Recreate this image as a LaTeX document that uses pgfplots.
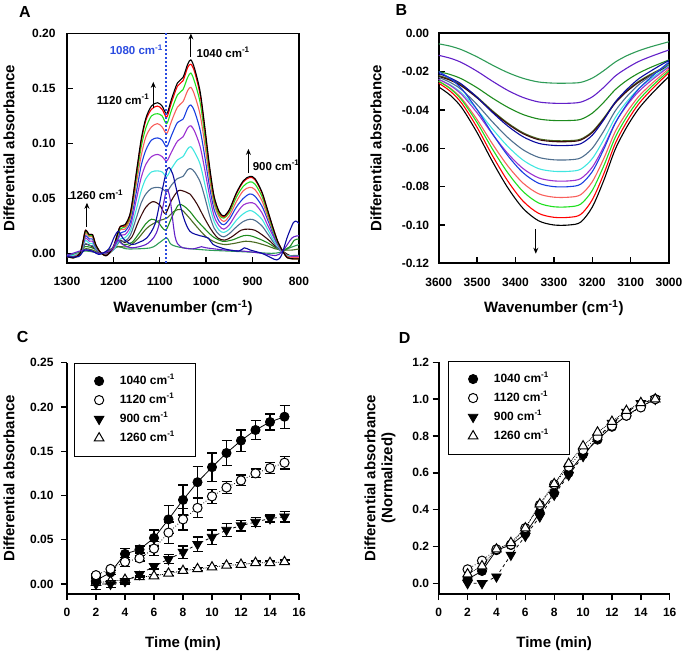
\documentclass[border=0pt]{standalone}
\usepackage{fontspec}
\setmainfont{Liberation Sans}
\usepackage{pgfplots}
\usepackage{pgfplotstable}
\pgfplotsset{compat=1.18}
\usetikzlibrary{arrows.meta}

\definecolor{cK}{HTML}{000000}
\definecolor{cR}{HTML}{FF0000}
\definecolor{cL}{HTML}{1EE01E}
\definecolor{cT}{HTML}{F8605C}
\definecolor{cB}{HTML}{1A3FE0}
\definecolor{cP}{HTML}{9B30D0}
\definecolor{cC}{HTML}{40E6E0}
\definecolor{cS}{HTML}{4F6F8F}
\definecolor{cM}{HTML}{3A0A0A}
\definecolor{cF}{HTML}{1E8B1E}
\definecolor{cO}{HTML}{4B6B23}
\definecolor{cN}{HTML}{0A0AA0}
\definecolor{cV}{HTML}{6220C8}
\definecolor{cG}{HTML}{2E9B57}
\definecolor{dotblue}{HTML}{2A4BE0}

\pgfplotstableread{
w k r l t b p c s
1300 -0.003 -0.003 -0.003 -0.003 -0.002 -0.002 -0.002 -0.001
1285 -0.004 -0.004 -0.004 -0.003 -0.003 -0.003 -0.002 -0.002
1272 0.000 0.000 0.000 0.000 0.000 0.000 0.000 0.000
1265 0.012 0.012 0.011 0.010 0.009 0.008 0.007 0.005
1260 0.021 0.021 0.020 0.018 0.016 0.014 0.012 0.009
1252 0.017 0.017 0.016 0.015 0.013 0.011 0.009 0.007
1245 0.017 0.017 0.016 0.015 0.013 0.011 0.009 0.007
1238 0.008 0.008 0.007 0.007 0.006 0.005 0.004 0.004
1228 0.001 0.001 0.001 0.001 0.001 0.001 0.001 0.000
1215 -0.002 -0.002 -0.002 -0.002 -0.002 -0.001 -0.001 -0.001
1200 0.006 0.006 0.006 0.005 0.005 0.004 0.003 0.003
1186 0.024 0.024 0.022 0.021 0.018 0.016 0.013 0.011
1175 0.026 0.025 0.024 0.022 0.020 0.017 0.014 0.011
1163 0.038 0.037 0.035 0.033 0.029 0.025 0.021 0.017
1150 0.075 0.074 0.070 0.065 0.057 0.050 0.041 0.033
1140 0.104 0.102 0.097 0.089 0.080 0.069 0.057 0.046
1130 0.123 0.121 0.114 0.106 0.094 0.081 0.068 0.054
1118 0.134 0.131 0.125 0.115 0.103 0.088 0.074 0.059
1105 0.137 0.134 0.127 0.118 0.105 0.090 0.075 0.060
1095 0.134 0.131 0.125 0.115 0.103 0.088 0.074 0.059
1085 0.127 0.124 0.118 0.109 0.097 0.084 0.070 0.056
1075 0.140 0.137 0.130 0.120 0.107 0.092 0.077 0.062
1062 0.155 0.152 0.144 0.133 0.119 0.102 0.085 0.068
1050 0.160 0.157 0.149 0.138 0.122 0.106 0.088 0.070
1040 0.172 0.169 0.160 0.148 0.132 0.114 0.095 0.076
1033 0.176 0.172 0.164 0.151 0.135 0.116 0.097 0.077
1025 0.168 0.165 0.156 0.144 0.129 0.111 0.092 0.074
1013 0.147 0.144 0.137 0.126 0.112 0.097 0.081 0.065
1003 0.115 0.113 0.107 0.099 0.088 0.076 0.063 0.051
993 0.080 0.078 0.074 0.069 0.061 0.053 0.044 0.035
983 0.052 0.051 0.048 0.045 0.040 0.034 0.029 0.023
972 0.038 0.037 0.035 0.033 0.029 0.025 0.021 0.017
962 0.034 0.033 0.032 0.029 0.026 0.022 0.019 0.015
950 0.040 0.039 0.037 0.034 0.031 0.026 0.022 0.018
935 0.055 0.054 0.051 0.047 0.042 0.036 0.030 0.024
920 0.066 0.065 0.061 0.057 0.050 0.044 0.036 0.029
906 0.070 0.069 0.065 0.060 0.054 0.046 0.039 0.031
895 0.068 0.067 0.063 0.058 0.052 0.045 0.037 0.030
880 0.056 0.055 0.052 0.048 0.043 0.037 0.031 0.025
868 0.040 0.039 0.037 0.034 0.031 0.026 0.022 0.018
855 0.022 0.022 0.020 0.019 0.017 0.015 0.012 0.010
845 0.010 0.010 0.009 0.009 0.008 0.007 0.006 0.004
835 0.002 0.002 0.002 0.002 0.002 0.001 0.001 0.001
825 -0.004 -0.004 -0.004 -0.003 -0.003 -0.003 -0.002 -0.002
812 -0.005 -0.005 -0.005 -0.004 -0.004 -0.003 -0.003 -0.002
800 -0.005 -0.005 -0.005 -0.004 -0.004 -0.003 -0.003 -0.002
}\specA

\pgfplotstableread{
w g1 g2 g3 g4 g5 g6 g7 g8 g9 g10 g11 g12 g13 g14
3600 -0.0055 -0.0115 -0.0200 -0.0220 -0.0225 -0.0210 -0.0230 -0.0240 -0.0240 -0.0200 -0.0250 -0.0250 -0.0260 -0.0280
3570 -0.0067 -0.0130 -0.0215 -0.0240 -0.0245 -0.0233 -0.0256 -0.0269 -0.0272 -0.0236 -0.0286 -0.0289 -0.0302 -0.0323
3540 -0.0086 -0.0153 -0.0238 -0.0271 -0.0276 -0.0266 -0.0295 -0.0312 -0.0320 -0.0290 -0.0341 -0.0348 -0.0365 -0.0388
3500 -0.0123 -0.0198 -0.0284 -0.0332 -0.0337 -0.0334 -0.0372 -0.0398 -0.0415 -0.0398 -0.0450 -0.0466 -0.0491 -0.0518
3460 -0.0166 -0.0250 -0.0338 -0.0404 -0.0409 -0.0413 -0.0462 -0.0499 -0.0526 -0.0524 -0.0577 -0.0604 -0.0638 -0.0669
3420 -0.0205 -0.0298 -0.0386 -0.0468 -0.0473 -0.0484 -0.0544 -0.0590 -0.0627 -0.0638 -0.0692 -0.0728 -0.0771 -0.0806
3380 -0.0235 -0.0335 -0.0424 -0.0519 -0.0524 -0.0540 -0.0608 -0.0662 -0.0706 -0.0728 -0.0782 -0.0826 -0.0876 -0.0914
3340 -0.0254 -0.0358 -0.0447 -0.0550 -0.0555 -0.0574 -0.0647 -0.0706 -0.0754 -0.0782 -0.0837 -0.0885 -0.0939 -0.0978
3300 -0.0260 -0.0365 -0.0455 -0.0560 -0.0565 -0.0585 -0.0660 -0.0720 -0.0770 -0.0800 -0.0855 -0.0905 -0.0960 -0.1000
3260 -0.0260 -0.0365 -0.0455 -0.0560 -0.0565 -0.0585 -0.0660 -0.0720 -0.0770 -0.0800 -0.0855 -0.0905 -0.0960 -0.1000
3230 -0.0256 -0.0359 -0.0449 -0.0552 -0.0557 -0.0576 -0.0650 -0.0709 -0.0758 -0.0787 -0.0842 -0.0891 -0.0945 -0.0985
3200 -0.0234 -0.0332 -0.0417 -0.0513 -0.0518 -0.0532 -0.0600 -0.0654 -0.0699 -0.0722 -0.0775 -0.0820 -0.0869 -0.0907
3170 -0.0195 -0.0282 -0.0360 -0.0442 -0.0447 -0.0452 -0.0510 -0.0555 -0.0592 -0.0605 -0.0654 -0.0692 -0.0734 -0.0768
3140 -0.0150 -0.0223 -0.0294 -0.0359 -0.0364 -0.0359 -0.0405 -0.0440 -0.0467 -0.0469 -0.0513 -0.0543 -0.0575 -0.0605
3110 -0.0117 -0.0182 -0.0246 -0.0299 -0.0304 -0.0293 -0.0330 -0.0357 -0.0377 -0.0371 -0.0413 -0.0436 -0.0462 -0.0489
3080 -0.0092 -0.0148 -0.0209 -0.0252 -0.0257 -0.0239 -0.0270 -0.0291 -0.0306 -0.0293 -0.0332 -0.0351 -0.0371 -0.0396
3050 -0.0072 -0.0123 -0.0180 -0.0216 -0.0221 -0.0200 -0.0225 -0.0242 -0.0252 -0.0235 -0.0272 -0.0287 -0.0303 -0.0326
3020 -0.0055 -0.0101 -0.0155 -0.0185 -0.0190 -0.0164 -0.0185 -0.0198 -0.0205 -0.0183 -0.0219 -0.0231 -0.0243 -0.0264
3000 -0.0044 -0.0087 -0.0139 -0.0165 -0.0170 -0.0142 -0.0160 -0.0170 -0.0175 -0.0150 -0.0185 -0.0195 -0.0205 -0.0225
}\specB

\tikzset{
  annot/.style={font=\bfseries\fontsize{11.5}{13}\selectfont, inner sep=0pt},
  arr/.style={line width=1pt, -{Stealth[length=6pt,width=5pt]}},
}

\pgfplotsset{
  panel/.style={
    scale only axis, anchor=south west,
    axis line style={line width=1.6pt},
    every tick/.style={black, line width=1.4pt},
    major tick length=6pt,
    tick label style={font=\bfseries\fontsize{12}{14}\selectfont},
    /pgf/number format/assume math mode=true,
    /pgf/number format/1000 sep={},
    label style={font=\bfseries\fontsize{15}{17}\selectfont},
    tick pos=left,
    clip mode=individual,
  },
  spec/.style={line width=1.1pt, smooth},
  kin/.style={
    axis x line*=bottom, axis y line*=left,
    x axis line style={-}, y axis line style={-},
    tick align=outside,
    xmin=0, xmax=16, xtick={0,2,...,16},
    xticklabel style={yshift=-5pt},
    legend cell align=left,
    legend image code/.code={\draw[##1, mark repeat=1] plot coordinates {(0pt,0pt)};},
    legend style={draw=black, line width=0.8pt, font=\bfseries\fontsize{12}{14}\selectfont,
      inner xsep=20pt, inner ysep=11pt, row sep=5pt,
      nodes={inner sep=1pt, text height=9pt, text depth=3pt},
      /tikz/every odd column/.append style={column sep=15pt}},
  },
  mF/.style={mark=*, mark size=4.6pt, mark options={solid, fill=black, draw=black, line width=0.8pt}},
  mO/.style={mark=*, mark size=4.6pt, mark options={solid, fill=white, draw=black, line width=1pt}},
  mD/.style={mark=triangle*, mark size=5.5pt, mark options={solid, rotate=180, fill=black, draw=black, line width=0.8pt}},
  mU/.style={mark=triangle*, mark size=5.5pt, mark options={solid, fill=white, draw=black, line width=1pt}},
  eb/.style={error bars/.cd, y dir=both, y explicit,
    error bar style={line width=1.3pt, solid, black},
    error mark options={rotate=90, mark size=5pt, line width=1.3pt, solid, black}},
}

\begin{document}
\begin{tikzpicture}
\useasboundingbox (0pt,0pt) rectangle (687pt,654pt);

% ---------------- Panel A ----------------
\begin{axis}[panel, at={(67pt,391pt)}, width=232pt, height=229.5pt,
  xmin=800, xmax=1300, x dir=reverse, ymin=-0.0088, ymax=0.2,
  xtick={800,900,1000,1100,1200,1300}, ytick={0,0.05,0.1,0.15,0.2},
  yticklabel style={xshift=-8pt, /pgf/number format/fixed, /pgf/number format/fixed zerofill, /pgf/number format/precision=2},
  xticklabel style={yshift=-11pt},
  tick align=inside,
  xlabel={Wavenumber (cm\textsuperscript{-1})}, ylabel={Differential absorbance},
  xlabel style={at={(axis description cs:0.5,-0.195)}, anchor=center},
  ylabel style={at={(axis description cs:-0.25,0.5)}, anchor=center},
]
\addplot[spec, cG] coordinates {(1300,-0.003) (1262,0.002) (1220,0.000) (1190,0.006) (1170,0.004) (1120,0.005) (1100,0.010) (1085,0.014) (1075,0.008) (1050,0.005) (1000,0.003) (950,0.002) (900,0.001) (860,0.000) (840,0.001) (820,0.005) (800,0.008)};
\addplot[spec, cO] coordinates {(1300,-0.002) (1275,-0.002) (1262,0.004) (1245,0.003) (1225,0.000) (1195,0.006) (1170,0.006) (1150,0.012) (1130,0.022) (1118,0.026) (1100,0.030) (1085,0.032) (1070,0.038) (1055,0.040) (1040,0.034) (1020,0.024) (1000,0.015) (980,0.010) (960,0.008) (940,0.009) (915,0.011) (895,0.010) (870,0.007) (850,0.004) (835,0.003) (815,0.003) (800,0.004)};
\addplot[spec, cF] coordinates {(1300,-0.002) (1275,-0.002) (1262,0.006) (1240,0.004) (1225,0.000) (1210,0.001) (1200,0.004) (1190,0.012) (1178,0.008) (1160,0.010) (1145,0.018) (1130,0.027) (1118,0.031) (1105,0.029) (1088,0.021) (1075,0.032) (1060,0.044) (1048,0.043) (1035,0.038) (1020,0.030) (1000,0.021) (985,0.015) (965,0.011) (945,0.012) (920,0.016) (905,0.016) (885,0.013) (865,0.009) (850,0.005) (835,0.003) (820,0.006) (810,0.012) (800,0.013)};
\addplot[spec, cM] coordinates {(1300,-0.002) (1275,-0.002) (1262,0.008) (1245,0.006) (1228,0.000) (1210,0.001) (1200,0.004) (1188,0.012) (1175,0.010) (1160,0.015) (1145,0.030) (1130,0.042) (1115,0.047) (1100,0.044) (1088,0.036) (1075,0.048) (1060,0.057) (1045,0.056) (1035,0.054) (1020,0.045) (1005,0.033) (990,0.022) (975,0.014) (960,0.012) (945,0.015) (925,0.021) (910,0.022) (895,0.021) (880,0.017) (865,0.012) (850,0.006) (835,0.002) (820,-0.002) (800,-0.003)};
\addplot[spec, cS] table[x=w, y=s] {\specA};
\addplot[spec, cC] table[x=w, y=c] {\specA};
\addplot[spec, cP] table[x=w, y=p] {\specA};
\addplot[spec, cB] table[x=w, y=b] {\specA};
\addplot[spec, cT] table[x=w, y=t] {\specA};
\addplot[spec, cL] table[x=w, y=l] {\specA};
\addplot[spec, cR] table[x=w, y=r] {\specA};
\addplot[spec, cK] table[x=w, y=k] {\specA};
\addplot[spec, cV] coordinates {(1300,-0.002) (1262,0.003) (1230,0.000) (1205,0.003) (1192,0.012) (1180,0.008) (1160,0.005) (1130,0.008) (1112,0.015) (1103,0.024) (1092,0.045) (1085,0.058) (1078,0.050) (1067,0.015) (1055,0.006) (1030,0.004) (1010,0.006) (1000,0.005) (960,0.003) (920,0.002) (880,0.000) (850,-0.002) (835,0.002) (815,0.014) (800,0.016)};
\addplot[spec, cN] coordinates {(1300,-0.003) (1275,-0.003) (1262,0.003) (1245,0.002) (1230,-0.001) (1210,0.004) (1198,0.015) (1189,0.020) (1178,0.013) (1160,0.008) (1145,0.010) (1128,0.014) (1110,0.027) (1096,0.055) (1086,0.074) (1080,0.078) (1072,0.072) (1064,0.058) (1049,0.033) (1035,0.020) (1013,0.016) (996,0.014) (985,0.008) (960,0.004) (930,0.002) (918,0.005) (905,0.003) (880,0.000) (860,-0.004) (848,-0.006) (838,-0.002) (825,0.015) (812,0.028) (805,0.029) (800,0.027)};
\draw[dotblue, line width=2pt, dash pattern=on 1.8pt off 2.2pt] (axis cs:1086,-0.0088) -- (axis cs:1086,0.2);
\node[annot, dotblue, anchor=east] at (axis cs:1093,0.185) {1080 cm\textsuperscript{-1}};
\node[annot, anchor=west] at (axis cs:1021,0.183) {1040 cm\textsuperscript{-1}};
\draw[arr] (axis cs:1033,0.179) -- (axis cs:1033,0.2);
\node[annot, anchor=east] at (axis cs:1122,0.140) {1120 cm\textsuperscript{-1}};
\draw[arr] (axis cs:1114,0.132) -- (axis cs:1114,0.156);
\node[annot, anchor=west] at (axis cs:900,0.080) {900 cm\textsuperscript{-1}};
\draw[arr] (axis cs:909,0.073) -- (axis cs:909,0.095);
\node[annot] at (axis cs:1236,0.053) {1260 cm\textsuperscript{-1}};
\draw[arr] (axis cs:1257,0.024) -- (axis cs:1257,0.046);
\end{axis}

% ---------------- Panel B ----------------
\begin{axis}[panel, at={(438.7pt,390.7pt)}, width=230.3pt, height=230pt,
  xmin=3000, xmax=3600, x dir=reverse, ymin=-0.12, ymax=0,
  xtick={3000,3100,3200,3300,3400,3500,3600}, ytick={-0.12,-0.1,-0.08,-0.06,-0.04,-0.02,0},
  yticklabel style={xshift=-6pt, /pgf/number format/fixed, /pgf/number format/fixed zerofill, /pgf/number format/precision=2},
  xticklabel style={yshift=-11pt},
  tick align=inside,
  xlabel={Wavenumber (cm\textsuperscript{-1})}, ylabel={Differential absorbance},
  xlabel style={at={(axis description cs:0.5,-0.195)}, anchor=center},
  ylabel style={at={(axis description cs:-0.272,0.5)}, anchor=center},
]
\addplot[spec, cG] table[x=w, y=g1] {\specB};
\addplot[spec, cV] table[x=w, y=g2] {\specB};
\addplot[spec, cF] table[x=w, y=g3] {\specB};
\addplot[spec, cO] table[x=w, y=g4] {\specB};
\addplot[spec, cM] table[x=w, y=g5] {\specB};
\addplot[spec, cN] table[x=w, y=g6] {\specB};
\addplot[spec, cS] table[x=w, y=g7] {\specB};
\addplot[spec, cC] table[x=w, y=g8] {\specB};
\addplot[spec, cP] table[x=w, y=g9] {\specB};
\addplot[spec, cB] table[x=w, y=g10] {\specB};
\addplot[spec, cT] table[x=w, y=g11] {\specB};
\addplot[spec, cL] table[x=w, y=g12] {\specB};
\addplot[spec, cR] table[x=w, y=g13] {\specB};
\addplot[spec, cK] table[x=w, y=g14] {\specB};
\draw[arr] (axis cs:3347,-0.102) -- (axis cs:3347,-0.115);
\end{axis}

% ---------------- Panel C ----------------
\begin{axis}[panel, kin, at={(67pt,60pt)}, width=232pt, height=231.3pt,
  ymin=-0.0113, ymax=0.25, ytick={0,0.05,0.1,0.15,0.2,0.25},
  yticklabel style={xshift=-4pt, /pgf/number format/fixed, /pgf/number format/fixed zerofill, /pgf/number format/precision=2},
  xlabel={Time (min)}, ylabel={Differential absorbance},
  xlabel style={at={(axis description cs:0.5,-0.215)}, anchor=center},
  ylabel style={at={(axis description cs:-0.25,0.5)}, anchor=center},
  legend style={at={(axis description cs:0.030,1.0)}, anchor=north west},
]
\addlegendimage{only marks, mF}
\addlegendentry{1040 cm\textsuperscript{-1}}
\addlegendimage{only marks, mO}
\addlegendentry{1120 cm\textsuperscript{-1}}
\addlegendimage{only marks, mD}
\addlegendentry{900 cm\textsuperscript{-1}}
\addlegendimage{only marks, mU}
\addlegendentry{1260 cm\textsuperscript{-1}}
\addplot[forget plot, black, line width=0.8pt, densely dotted, mU, eb] coordinates {
(2,0.0015) +- (0,0.001) (3,0.003) +- (0,0.001) (4,0.005) +- (0,0.001) (5,0.008) +- (0,0.001)
(6,0.009) +- (0,0.002) (7,0.012) +- (0,0.002) (8,0.015) +- (0,0.002) (9,0.017) +- (0,0.002)
(10,0.019) +- (0,0.002) (11,0.021) +- (0,0.002) (12,0.022) +- (0,0.002) (13,0.024) +- (0,0.002)
(14,0.024) +- (0,0.002) (15,0.025) +- (0,0.002)};
\addplot[forget plot, black, line width=0.8pt, dashed, mD, eb] coordinates {
(2,0.000) +- (0,0.006) (3,0.000) +- (0,0.004) (4,0.003) +- (0,0.003) (5,0.011) +- (0,0.003)
(6,0.020) +- (0,0.003) (7,0.028) +- (0,0.005) (8,0.036) +- (0,0.007) (9,0.045) +- (0,0.008)
(10,0.053) +- (0,0.008) (11,0.061) +- (0,0.007) (12,0.066) +- (0,0.006) (13,0.070) +- (0,0.005)
(14,0.074) +- (0,0.004) (15,0.076) +- (0,0.006)};
\addplot[forget plot, black, line width=0.8pt, solid, mF, eb] coordinates {
(2,0.004) +- (0,0.002) (3,0.013) +- (0,0.002) (4,0.034) +- (0,0.006) (5,0.039) +- (0,0.004)
(6,0.052) +- (0,0.009) (7,0.073) +- (0,0.016) (8,0.095) +- (0,0.017) (9,0.115) +- (0,0.018)
(10,0.132) +- (0,0.016) (11,0.148) +- (0,0.014) (12,0.162) +- (0,0.012) (13,0.174) +- (0,0.011)
(14,0.183) +- (0,0.009) (15,0.189) +- (0,0.013)};
\addplot[forget plot, black, line width=0.8pt, dotted, mO, eb] coordinates {
(2,0.010) +- (0,0.002) (3,0.017) +- (0,0.002) (4,0.025) +- (0,0.005) (5,0.029) +- (0,0.003)
(6,0.040) +- (0,0.008) (7,0.058) +- (0,0.012) (8,0.073) +- (0,0.012) (9,0.086) +- (0,0.011)
(10,0.099) +- (0,0.008) (11,0.109) +- (0,0.007) (12,0.117) +- (0,0.006) (13,0.125) +- (0,0.005)
(14,0.131) +- (0,0.006) (15,0.137) +- (0,0.007)};
\end{axis}

% ---------------- Panel D ----------------
\begin{axis}[panel, kin, at={(438.7pt,60pt)}, width=231pt, height=231.7pt,
  ymin=-0.058, ymax=1.2, ytick={0,0.2,0.4,0.6,0.8,1,1.2},
  yticklabel style={/pgf/number format/fixed, /pgf/number format/fixed zerofill, /pgf/number format/precision=1},
  xlabel={Time (min)}, ylabel={Differential absorbance\\(Normalized)},
  xlabel style={at={(axis description cs:0.5,-0.215)}, anchor=center},
  ylabel style={at={(axis description cs:-0.254,0.5)}, anchor=center, align=center},
  legend style={at={(axis description cs:0.040,1.007)}, anchor=north west},
]
\addlegendimage{only marks, mF}
\addlegendentry{1040 cm\textsuperscript{-1}}
\addlegendimage{only marks, mO}
\addlegendentry{1120 cm\textsuperscript{-1}}
\addlegendimage{only marks, mD}
\addlegendentry{900 cm\textsuperscript{-1}}
\addlegendimage{only marks, mU}
\addlegendentry{1260 cm\textsuperscript{-1}}
\addplot[forget plot, black, line width=0.8pt, dashed, mD] coordinates {
(2,0.0) (3,0.0) (4,0.036) (5,0.154) (6,0.257) (7,0.362) (8,0.48) (9,0.588) (10,0.69) (11,0.79) (12,0.87) (13,0.93) (14,0.977) (15,1.0)};
\addplot[forget plot, black, line width=0.8pt, solid, mF] coordinates {
(2,0.022) (3,0.067) (4,0.18) (5,0.208) (6,0.27) (7,0.384) (8,0.49) (9,0.60) (10,0.70) (11,0.78) (12,0.85) (13,0.91) (14,0.96) (15,1.0)};
\addplot[forget plot, black, line width=0.8pt, dotted, mO] coordinates {
(2,0.076) (3,0.123) (4,0.185) (5,0.21) (6,0.30) (7,0.425) (8,0.537) (9,0.633) (10,0.724) (11,0.795) (12,0.855) (13,0.91) (14,0.955) (15,1.0)};
\addplot[forget plot, black, line width=0.8pt, densely dotted, mU] coordinates {
(2,0.05) (3,0.094) (4,0.185) (5,0.22) (6,0.30) (7,0.43) (8,0.54) (9,0.65) (10,0.745) (11,0.82) (12,0.878) (13,0.937) (14,0.98) (15,1.0)};
\end{axis}

\node[font=\bfseries\fontsize{16}{18}\selectfont] at (25pt,642pt) {A};
\node[font=\bfseries\fontsize{16}{18}\selectfont] at (401.3pt,644pt) {B};
\node[font=\bfseries\fontsize{16}{18}\selectfont] at (22.7pt,317pt) {C};
\node[font=\bfseries\fontsize{16}{18}\selectfont] at (404.7pt,315.7pt) {D};
\end{tikzpicture}
\end{document}
